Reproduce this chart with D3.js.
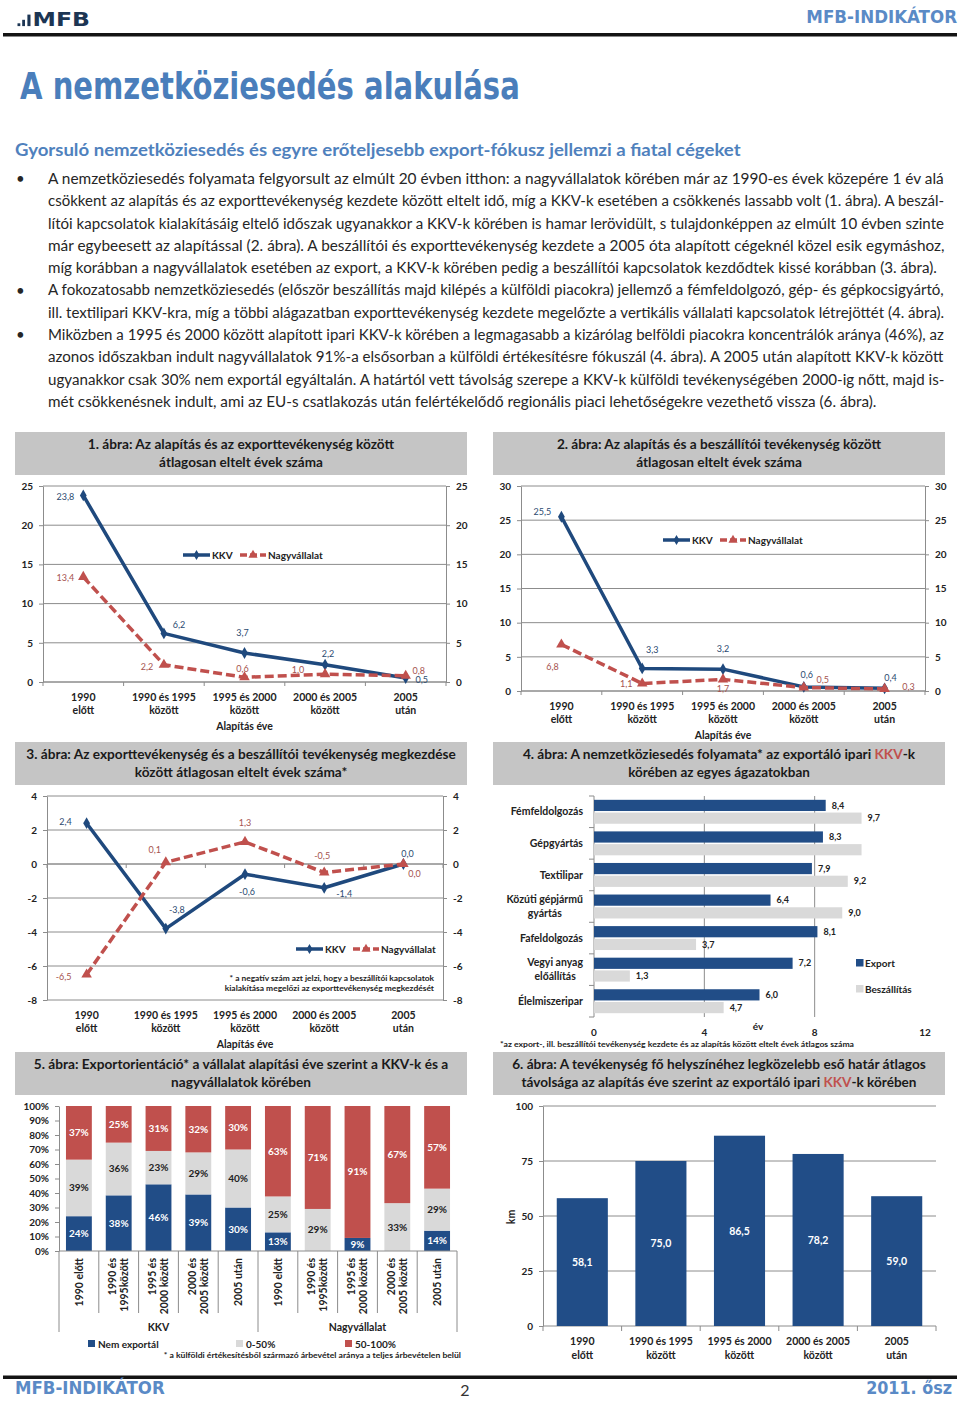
<!DOCTYPE html>
<html lang="hu">
<head>
<meta charset="UTF-8">
<title>A nemzetköziesedés alakulása</title>
<script src="https://d3js.org/d3.v7.min.js"></script>
<style>
  body { margin: 0; background: #fff; }
  svg { display: block; font-family: Lato, "Open Sans", sans-serif; }
  .cond { font-family: "Liberation Sans Narrow", "DejaVu Sans Condensed", "Roboto Condensed", "Liberation Sans", sans-serif; font-weight: bold; }
  .b { font-weight: bold; }
  .axis path, .axis line { stroke: #8c8c8c; }
  .axis text { font: bold 10px Lato, sans-serif; fill: #222; }
</style>
</head>
<body>
<svg width="960" height="1401"></svg>
<script>
// ---------- data ----------
const periods = [["1990", "előtt"], ["1990 és 1995", "között"], ["1995 és 2000", "között"], ["2000 és 2005", "között"], ["2005", "után"]];

const fig1Kkv = [23.8, 6.2, 3.7, 2.2, 0.5];
const fig1Nagy = [13.4, 2.2, 0.6, 1.0, 0.8];
const fig2Kkv = [25.5, 3.3, 3.2, 0.6, 0.4];
const fig2Nagy = [6.8, 1.1, 1.7, 0.5, 0.3];
const fig3Kkv = [2.4, -3.8, -0.6, -1.4, 0.0];
const fig3Nagy = [-6.5, 0.1, 1.3, -0.5, 0.0];

const sectors = [["Fémfeldolgozás"], ["Gépgyártás"], ["Textilipar"], ["Közúti gépjármű", "gyártás"], ["Fafeldolgozás"], ["Vegyi anyag", "előállítás"], ["Élelmiszeripar"]];
const fig4Export = [8.4, 8.3, 7.9, 6.4, 8.1, 7.2, 6.0];
const fig4Beszall = [9.7, 9.7, 9.2, 9.0, 3.7, 1.3, 4.7];
const fig4NoLabel = [1]; // Gépgyártás beszállítás has no label in the original

const fig5Cats = [["1990 előtt"], ["1990 és", "1995között"], ["1995 és", "2000 között"], ["2000 és", "2005 között"], ["2005 után"],
                  ["1990 előtt"], ["1990 és", "1995között"], ["1995 és", "2000 között"], ["2000 és", "2005 között"], ["2005 után"]];
const fig5Groups = ["KKV", "Nagyvállalat"];
const fig5Keys = ["Nem exportál", "0-50%", "50-100%"];
const fig5Nem = [24, 38, 46, 39, 30, 13, 0, 9, 0, 14];
const fig5Kozep = [39, 36, 23, 29, 40, 25, 29, 0, 33, 29];
const fig5Sok = [37, 25, 31, 32, 30, 63, 71, 91, 67, 57];

const fig6Km = [58.1, 75.0, 86.5, 78.2, 59.0];

const bodyText = [
  "A nemzetköziesedés folyamata felgyorsult az elmúlt 20 évben itthon: a nagyvállalatok körében már az 1990-es évek közepére 1 év alá",
  "csökkent az alapítás és az exporttevékenység kezdete között eltelt idő, míg a KKV-k esetében a csökkenés lassabb volt (1. ábra). A beszál-",
  "lítói kapcsolatok kialakításáig eltelő időszak ugyanakkor a KKV-k körében is hamar lerövidült, s tulajdonképpen az elmúlt 10 évben szinte",
  "már egybeesett az alapítással (2. ábra). A beszállítói és exporttevékenység kezdete a 2005 óta alapított cégeknél közel esik egymáshoz,",
  "míg korábban a nagyvállalatok esetében az export, a KKV-k körében pedig a beszállítói kapcsolatok kezdődtek kissé korábban (3. ábra).",
  "A fokozatosabb nemzetköziesedés (először beszállítás majd kilépés a külföldi piacokra) jellemző a fémfeldolgozó, gép- és gépkocsigyártó,",
  "ill. textilipari KKV-kra, míg a többi alágazatban exporttevékenység kezdete megelőzte a vertikális vállalati kapcsolatok létrejöttét (4. ábra).",
  "Miközben a 1995 és 2000 között alapított ipari KKV-k körében a legmagasabb a kizárólag belföldi piacokra koncentrálók aránya (46%), az",
  "azonos időszakban indult nagyvállalatok 91%-a elsősorban a külföldi értékesítésre fókuszál (4. ábra). A 2005 után alapított KKV-k között",
  "ugyanakkor csak 30% nem exportál egyáltalán. A határtól vett távolság szerepe a KKV-k külföldi tevékenységében 2000-ig nőtt, majd is-",
  "mét csökkenésnek indult, ami az EU-s csatlakozás után felértékelődő regionális piaci lehetőségekre vezethető vissza (6. ábra)."
];
const bulletLines = [0, 5, 7];
const lineEnds = [945, 945, 945, 945, 937, 945, 945, 945, 945, 945, 877];

// ---------- helpers ----------
const BLUE = "#1f497d", BAR = "#214d87", RED = "#c0504d", LIGHT = "#d9d9d9", HEAD = "#4f81bd", INK = "#222";
const loc = d3.formatLocale({decimal: ",", thousands: " ", grouping: [3], currency: ["", ""], minus: "-"});
const f1 = loc.format(".1f");
const svg = d3.select("svg");

function fit(sel, w) {
  sel.each(function () {
    const bw = this.getBBox().width;
    if (!bw) return;
    const x0 = +this.getAttribute("x") || 0;
    this.setAttribute("transform", `translate(${x0},0) scale(${w / bw},1) translate(${-x0},0)`);
  });
  return sel;
}

function titleBox(x, y, lines, widths) {
  svg.append("rect").attr("x", x).attr("y", y).attr("width", 452).attr("height", 43).attr("fill", "#c5c5c5");
  lines.forEach((parts, i) => {
    const t = svg.append("text").attr("x", x + 226).attr("y", y + 17.5 + i * 18)
      .attr("text-anchor", "middle").attr("class", "b").attr("font-size", 13.5).attr("fill", "#1a1a1a");
    parts.forEach(p => t.append("tspan").text(p[0]).attr("fill", p[1] || null));
    fit(t, widths[i]);
  });
}

function lineLegend(g, x, y) {
  g.append("line").attr("x1", x).attr("x2", x + 27).attr("y1", y).attr("y2", y).attr("stroke", BLUE).attr("stroke-width", 3.5);
  g.append("path").attr("d", d3.symbol(d3.symbolDiamond, 30)()).attr("transform", `translate(${x + 13.5},${y})`).attr("fill", BLUE);
  g.append("text").attr("x", x + 29).attr("y", y + 3.5).attr("class", "b").attr("font-size", 10).attr("fill", INK).text("KKV");
  g.append("line").attr("x1", x + 57).attr("x2", x + 83).attr("y1", y).attr("y2", y).attr("stroke", RED).attr("stroke-width", 3.5).attr("stroke-dasharray", "7,3");
  g.append("path").attr("d", d3.symbol(d3.symbolTriangle, 36)()).attr("transform", `translate(${x + 70},${y})`).attr("fill", RED);
  g.append("text").attr("x", x + 85).attr("y", y + 3.5).attr("class", "b").attr("font-size", 10).attr("fill", INK).text("Nagyvállalat");
}

function lineChart(c) {
  const x = d3.scaleBand().domain(d3.range(periods.length)).range([c.left, c.right]);
  const y = d3.scaleLinear().domain(c.domain).range([c.bottom, c.top]);
  const cx = i => x(i) + x.bandwidth() / 2;
  const ticks = d3.range(c.domain[0], c.domain[1] + c.step / 2, c.step);
  const g = svg.append("g");

  g.append("g").selectAll("line").data(ticks).join("line")
    .attr("x1", c.left).attr("x2", c.right).attr("y1", d => y(d)).attr("y2", d => y(d))
    .attr("stroke", "#8c8c8c");
  g.append("g").attr("class", "axis").attr("transform", `translate(${c.left},0)`)
    .call(d3.axisLeft(y).tickValues(ticks).tickSizeInner(4).tickSizeOuter(0).tickPadding(6).tickFormat(d => String(d)));
  g.append("g").attr("class", "axis").attr("transform", `translate(${c.right},0)`)
    .call(d3.axisRight(y).tickValues(ticks).tickSizeInner(4).tickSizeOuter(0).tickPadding(6).tickFormat(d => String(d)));

  // category axis at zero
  g.append("line").attr("x1", c.left).attr("x2", c.right).attr("y1", y(0)).attr("y2", y(0)).attr("stroke", "#8c8c8c");
  g.append("g").selectAll("line").data(d3.range(periods.length + 1)).join("line")
    .attr("x1", i => c.left + i * x.step()).attr("x2", i => c.left + i * x.step())
    .attr("y1", y(0)).attr("y2", y(0) + 4).attr("stroke", "#8c8c8c");

  periods.forEach((p, i) => {
    p.forEach((ln, j) => g.append("text").attr("x", cx(i)).attr("y", c.bottom + 19 + j * 13)
      .attr("text-anchor", "middle").attr("class", "b").attr("font-size", 10.5).attr("fill", INK).text(ln));
  });
  g.append("text").attr("x", (c.left + c.right) / 2).attr("y", c.bottom + 48).attr("text-anchor", "middle")
    .attr("class", "b").attr("font-size", 10.5).attr("fill", INK).text("Alapítás éve");

  const series = [
    {v: c.kkv, col: BLUE, dash: null, sym: d3.symbolDiamond, size: 40, off: c.kkvOff, lab: "#2b4a70"},
    {v: c.nagy, col: RED, dash: "9,4", sym: d3.symbolTriangle, size: 48, off: c.nagyOff, lab: "#a5534f"}
  ];
  const line = d3.line().x((d, i) => cx(i)).y(d => y(d));
  series.forEach(s => {
    g.append("path").datum(s.v).attr("d", line).attr("fill", "none").attr("stroke", s.col)
      .attr("stroke-width", 3.5).attr("stroke-dasharray", s.dash).attr("stroke-linejoin", "round");
    g.append("g").selectAll("path").data(s.v).join("path")
      .attr("d", d3.symbol(s.sym, s.size)).attr("fill", s.col)
      .attr("transform", (d, i) => `translate(${cx(i)},${y(d)})`);
    g.append("g").selectAll("text").data(s.v).join("text")
      .attr("x", (d, i) => cx(i) + s.off[i][0]).attr("y", (d, i) => y(d) + s.off[i][1])
      .attr("dy", "0.35em").attr("text-anchor", "middle").attr("font-size", 9).attr("fill", s.lab)
      .text(d => f1(d));
  });
  lineLegend(g, c.legend[0], c.legend[1]);
  return g;
}

// ---------- header ----------
svg.append("rect").attr("x", 17.5).attr("y", 23.3).attr("width", 2.8).attr("height", 2.8).attr("fill", "#1c3553");
svg.append("rect").attr("x", 22.2).attr("y", 19.8).attr("width", 2.8).attr("height", 6.3).attr("fill", "#1c3553");
svg.append("rect").attr("x", 27.4).attr("y", 14.6).attr("width", 3.1).attr("height", 11.5).attr("fill", "#1c3553");
fit(svg.append("text").attr("x", 32.5).attr("y", 26.2).attr("class", "cond").attr("font-size", 20).attr("fill", "#1c3553").text("MFB"), 57.5);
fit(svg.append("text").attr("x", 957).attr("y", 23).attr("text-anchor", "end").attr("class", "cond").attr("font-size", 17).attr("fill", "#5a8ac6").text("MFB-INDIKÁTOR"), 151);
svg.append("rect").attr("x", 3).attr("y", 33).attr("width", 954).attr("height", 3.5).attr("fill", "#141414");

fit(svg.append("text").attr("x", 20).attr("y", 99).attr("class", "cond").attr("font-size", 37).attr("fill", "#4a7ebb").text("A nemzetköziesedés alakulása"), 500);
fit(svg.append("text").attr("x", 15).attr("y", 156.5).attr("class", "b").attr("font-size", 17).attr("fill", HEAD)
  .text("Gyorsuló nemzetköziesedés és egyre erőteljesebb export-fókusz jellemzi a fiatal cégeket"), 727);

bodyText.forEach((ln, i) => {
  const yb = 184 + i * 22.3;
  if (bulletLines.includes(i)) svg.append("text").attr("x", 16).attr("y", yb).attr("font-size", 15).attr("fill", "#262626").text("•");
  fit(svg.append("text").attr("x", 48).attr("y", yb).attr("font-size", 15).attr("fill", "#262626").text(ln), lineEnds[i] - 48);
});

// ---------- charts 1-3 ----------
titleBox(15, 432, [[["1. ábra: Az alapítás  és az exporttevékenység között"]], [["átlagosan  eltelt évek száma"]]], [307, 164]);
lineChart({left: 43, right: 446, top: 486, bottom: 682, domain: [0, 25], step: 5, kkv: fig1Kkv, nagy: fig1Nagy,
  kkvOff: [[-18, 1], [15, -9], [-2, -20], [3, -11], [16, 2]], nagyOff: [[-18, 1], [-17, 2], [-2, -8], [-27, -4], [13, -5]], legend: [183, 555]});

titleBox(493, 432, [[["2. ábra: Az alapítás  és a beszállítói  tevékenység között"]], [["átlagosan  eltelt évek száma"]]], [325, 166]);
lineChart({left: 521, right: 925, top: 486, bottom: 691, domain: [0, 30], step: 5, kkv: fig2Kkv, nagy: fig2Nagy,
  kkvOff: [[-19, -5], [10, -19], [0, -20], [3, -12], [6, -10]], nagyOff: [[-9, 22], [-16, 0], [0, 9], [19, -8], [24, -2]], legend: [663, 540]});

titleBox(15, 742, [[["3. ábra: Az exporttevékenység és a beszállítói  tevékenység megkezdése"]], [["között átlagosan  eltelt évek száma*"]]], [430, 213]);
const g3 = lineChart({left: 47, right: 443, top: 796, bottom: 1000, domain: [-8, 4], step: 2, kkv: fig3Kkv, nagy: fig3Nagy,
  kkvOff: [[-21, -1], [11, -19], [2, 18], [20, 6], [4, -10]], nagyOff: [[-23, 2], [-11, -12], [0, -19], [-2, -17], [11, 10]], legend: [296, 949]});
fit(g3.append("text").attr("x", 434).attr("y", 981).attr("text-anchor", "end").attr("class", "b").attr("font-size", 7.5).attr("fill", INK)
  .text("* a negatív szám azt jelzi, hogy a beszállítói kapcsolatok"), 206);
fit(g3.append("text").attr("x", 434).attr("y", 991.5).attr("text-anchor", "end").attr("class", "b").attr("font-size", 7.5).attr("fill", INK)
  .text("kialakítása  megelőzi az exporttevékenység megkezdését"), 210);

// ---------- chart 4 ----------
titleBox(493, 742, [[["4. ábra: A nemzetköziesedés  folyamata*  az exportáló ipari "], ["KKV", RED], ["-k"]], [["körében az egyes ágazatokban"]]], [393, 182]);
{
  const x = d3.scaleLinear().domain([0, 12]).range([594, 925]);
  const y = d3.scaleBand().domain(d3.range(sectors.length)).range([796, 1017]);
  const inner = d3.scaleBand().domain(["Export", "Beszállítás"]).range([0, y.bandwidth()]).paddingInner(0.12).paddingOuter(0.3);
  const g = svg.append("g");
  g.append("g").selectAll("line").data([4, 8]).join("line")
    .attr("x1", d => x(d)).attr("x2", d => x(d)).attr("y1", 796).attr("y2", 1017).attr("stroke", "#8c8c8c");
  g.append("line").attr("x1", x(0)).attr("x2", x(0)).attr("y1", 796).attr("y2", 1017).attr("stroke", "#8c8c8c");
  g.append("g").selectAll("line").data(d3.range(sectors.length + 1)).join("line")
    .attr("x1", x(0) - 5).attr("x2", x(0)).attr("y1", i => 796 + i * y.step()).attr("y2", i => 796 + i * y.step()).attr("stroke", "#8c8c8c");

  const sets = [{v: fig4Export, key: "Export", col: BAR}, {v: fig4Beszall, key: "Beszállítás", col: LIGHT}];
  sets.forEach(s => {
    g.append("g").selectAll("rect").data(s.v).join("rect")
      .attr("x", x(0)).attr("y", (d, i) => y(i) + inner(s.key))
      .attr("width", d => x(d) - x(0)).attr("height", inner.bandwidth()).attr("fill", s.col);
    g.append("g").selectAll("text").data(s.v.map((d, i) => ({d, i})).filter(o => !(s.key === "Beszállítás" && fig4NoLabel.includes(o.i))))
      .join("text").attr("x", o => x(o.d) + 6).attr("y", o => y(o.i) + inner(s.key) + inner.bandwidth() / 2)
      .attr("dy", "0.35em").attr("class", "b").attr("font-size", 9).attr("fill", INK).text(o => f1(o.d));
  });
  sectors.forEach((lines, i) => {
    const cy = y(i) + y.bandwidth() / 2;
    if (lines.length === 1) {
      g.append("text").attr("x", 583).attr("y", cy).attr("dy", "0.35em").attr("text-anchor", "end")
        .attr("class", "b").attr("font-size", 10.5).attr("fill", INK).text(lines[0]);
    } else {
      const tt = lines.map((ln, j) => g.append("text").attr("y", cy + (j - 0.5) * 14).attr("dy", "0.35em")
        .attr("text-anchor", "middle").attr("class", "b").attr("font-size", 10.5).attr("fill", INK).text(ln));
      const w = d3.max(tt, t => t.node().getComputedTextLength());
      tt.forEach(t => t.attr("x", 583 - w / 2));
    }
  });
  g.append("g").selectAll("text").data([0, 4, 8, 12]).join("text")
    .attr("x", d => x(d)).attr("y", 1036).attr("text-anchor", "middle").attr("class", "b").attr("font-size", 10).attr("fill", INK).text(d => d);
  g.append("text").attr("x", 758).attr("y", 1030).attr("text-anchor", "middle").attr("class", "b").attr("font-size", 10).attr("fill", INK).text("év");
  fit(g.append("text").attr("x", 500).attr("y", 1047).attr("class", "b").attr("font-size", 7.5).attr("fill", INK)
    .text("*az export-, ill. beszállítói  tevékenység kezdete és az alapítás  között eltelt  évek átlagos  száma"), 355);
  sets.forEach((s, i) => {
    g.append("rect").attr("x", 856).attr("y", 959 + i * 26).attr("width", 7.5).attr("height", 7.5).attr("fill", s.col);
    g.append("text").attr("x", 865).attr("y", 966.5 + i * 26).attr("class", "b").attr("font-size", 10).attr("fill", INK).text(s.key);
  });
}

// ---------- chart 5 ----------
titleBox(15, 1052, [[["5. ábra: Exportorientáció*  a vállalat  alapítási  éve szerint a KKV-k és a"]], [["nagyvállalatok  körében"]]], [415, 140]);
{
  const left = 59, right = 457;
  const x = d3.scaleBand().domain(d3.range(fig5Cats.length)).range([left, right]).paddingInner(0.35).paddingOuter(0.175);
  const y = d3.scaleLinear().domain([0, 1]).range([1251, 1106]);
  const rows = fig5Nem.map((v, i) => ({i, "Nem exportál": v, "0-50%": fig5Kozep[i], "50-100%": fig5Sok[i]}));
  const stacked = d3.stack().keys(fig5Keys).offset(d3.stackOffsetExpand)(rows);
  const cols = {"Nem exportál": BAR, "0-50%": LIGHT, "50-100%": RED};
  const txt = {"Nem exportál": "#fff", "0-50%": INK, "50-100%": "#fff"};
  const g = svg.append("g");

  g.append("g").attr("class", "axis").attr("transform", `translate(${left},0)`)
    .call(d3.axisLeft(y).tickValues(d3.range(0, 1.001, 0.1)).tickSizeInner(4).tickSizeOuter(0).tickPadding(6).tickFormat(d3.format(".0%")));
  g.selectAll(".axis text").attr("font-size", 9.5);

  stacked.forEach(layer => {
    const key = layer.key;
    g.append("g").selectAll("rect").data(layer).join("rect")
      .attr("x", d => x(d.data.i)).attr("width", x.bandwidth())
      .attr("y", d => y(d[1])).attr("height", d => y(d[0]) - y(d[1])).attr("fill", cols[key]);
    g.append("g").selectAll("text").data(layer.filter(d => d.data[key] > 0)).join("text")
      .attr("x", d => x(d.data.i) + x.bandwidth() / 2).attr("y", d => y((d[0] + d[1]) / 2)).attr("dy", "0.35em")
      .attr("text-anchor", "middle").attr("class", "b").attr("font-size", 10).attr("fill", txt[key])
      .text(d => d.data[key] + "%");
  });

  g.append("line").attr("x1", left).attr("x2", right).attr("y1", y(0)).attr("y2", y(0)).attr("stroke", "#8c8c8c");
  const step = x.step();
  g.append("g").selectAll("line").data(d3.range(fig5Cats.length + 1)).join("line")
    .attr("x1", k => left + k * step).attr("x2", k => left + k * step)
    .attr("y1", y(0)).attr("y2", k => (k % 5 === 0 ? 1332 : 1313)).attr("stroke", "#8c8c8c");

  fig5Cats.forEach((lines, i) => {
    const cx = x(i) + x.bandwidth() / 2;
    const gg = g.append("g").attr("transform", `translate(${cx},1258) rotate(-90)`);
    lines.forEach((ln, j) => gg.append("text").attr("x", 0).attr("y", (j - (lines.length - 1) / 2) * 12).attr("dy", "0.35em")
      .attr("text-anchor", "end").attr("class", "b").attr("font-size", 10.5).attr("fill", INK).text(ln));
  });
  fig5Groups.forEach((grp, k) => {
    g.append("text").attr("x", left + (k * 5 + 2.5) * step).attr("y", 1331).attr("text-anchor", "middle")
      .attr("class", "b").attr("font-size", 10.5).attr("fill", INK).text(grp);
  });
  const legX = [88, 236, 345];
  fig5Keys.forEach((key, k) => {
    g.append("rect").attr("x", legX[k]).attr("y", 1340).attr("width", 7).attr("height", 7).attr("fill", cols[key]);
    g.append("text").attr("x", legX[k] + 10).attr("y", 1347.5).attr("class", "b").attr("font-size", 10).attr("fill", INK).text(key);
  });
  fit(g.append("text").attr("x", 461).attr("y", 1358).attr("text-anchor", "end").attr("class", "b").attr("font-size", 7.5).attr("fill", INK)
    .text("* a külföldi  értékesítésből származó  árbevétel aránya  a teljes árbevételen belül"), 298);
}

// ---------- chart 6 ----------
titleBox(493, 1052, [[["6. ábra: A tevékenység fő helyszínéhez legközelebb eső határ  átlagos"]], [["távolsága az alapítás éve szerint az exportáló ipari "], ["KKV", RED], ["-k körében"]]], [414, 395]);
{
  const left = 543, right = 936;
  const x = d3.scaleBand().domain(d3.range(fig6Km.length)).range([left, right]).paddingInner(0.35).paddingOuter(0.175);
  const y = d3.scaleLinear().domain([0, 100]).range([1326, 1106]);
  const g = svg.append("g");
  g.append("g").selectAll("line").data([25, 50, 75, 100]).join("line")
    .attr("x1", left).attr("x2", right).attr("y1", d => y(d)).attr("y2", d => y(d)).attr("stroke", "#8c8c8c");
  g.append("g").attr("class", "axis").attr("transform", `translate(${left},0)`)
    .call(d3.axisLeft(y).tickValues([0, 25, 50, 75, 100]).tickSizeInner(4).tickSizeOuter(0).tickPadding(6));
  g.append("line").attr("x1", left).attr("x2", right).attr("y1", y(0)).attr("y2", y(0)).attr("stroke", "#8c8c8c");
  g.append("g").selectAll("line").data(d3.range(fig6Km.length + 1)).join("line")
    .attr("x1", k => left + k * x.step()).attr("x2", k => left + k * x.step())
    .attr("y1", y(0)).attr("y2", y(0) + 5).attr("stroke", "#8c8c8c");
  g.append("g").selectAll("rect").data(fig6Km).join("rect")
    .attr("x", (d, i) => x(i)).attr("width", x.bandwidth()).attr("y", d => y(d)).attr("height", d => y(0) - y(d)).attr("fill", BAR);
  g.append("g").selectAll("text").data(fig6Km).join("text")
    .attr("x", (d, i) => x(i) + x.bandwidth() / 2).attr("y", d => y(d / 2)).attr("dy", "0.35em")
    .attr("text-anchor", "middle").attr("class", "b").attr("font-size", 10.5).attr("fill", "#fff").text(d => f1(d));
  g.append("text").attr("transform", "translate(511,1217) rotate(-90)").attr("text-anchor", "middle").attr("dy", "0.35em")
    .attr("class", "b").attr("font-size", 10.5).attr("fill", INK).text("km");
  periods.forEach((p, i) => {
    p.forEach((ln, j) => g.append("text").attr("x", x(i) + x.bandwidth() / 2).attr("y", 1345 + j * 14)
      .attr("text-anchor", "middle").attr("class", "b").attr("font-size", 10.5).attr("fill", INK).text(ln));
  });
}

// ---------- footer ----------
svg.append("rect").attr("x", 3).attr("y", 1375.5).attr("width", 954).attr("height", 3.5).attr("fill", "#141414");
fit(svg.append("text").attr("x", 15).attr("y", 1394).attr("class", "cond").attr("font-size", 17).attr("fill", "#5a8ac6").text("MFB-INDIKÁTOR"), 150);
svg.append("text").attr("x", 465).attr("y", 1396).attr("text-anchor", "middle").attr("font-size", 16).attr("fill", "#333").text("2");
fit(svg.append("text").attr("x", 952).attr("y", 1394).attr("text-anchor", "end").attr("class", "cond").attr("font-size", 17).attr("fill", "#5a8ac6").text("2011. ősz"), 86);
</script>
</body>
</html>
